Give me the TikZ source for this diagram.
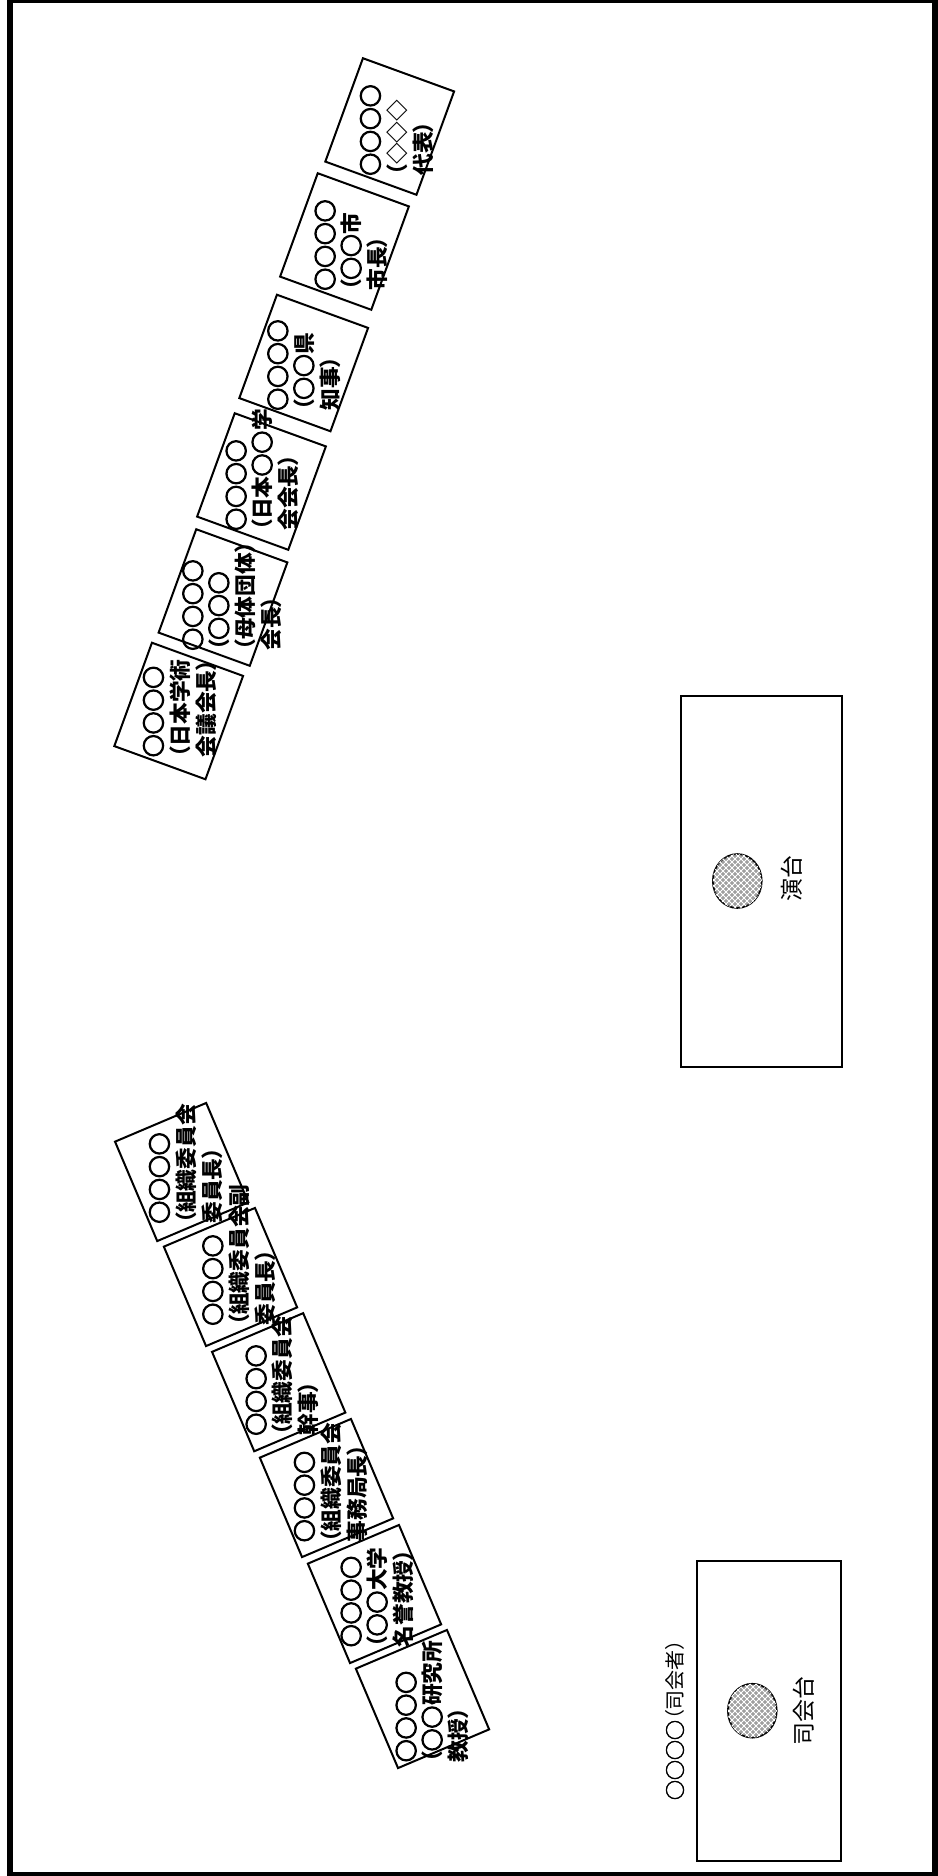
\documentclass[tikz,border=0pt]{standalone}
\usepackage{fontspec}
\usepackage{newunicodechar}
\newfontfamily\jp{Noto Sans CJK JP}[RawFeature=+palt]
\newfontfamily\maruface{Noto Sans CJK JP}[FakeBold=5, Scale=1.05]
\newfontfamily\marulight{Noto Sans CJK JP}[FakeBold=2.5]
\newcommand\maruglyph{{\marulight\char"25CB}}
\newunicodechar{○}{\maruglyph}
\usetikzlibrary{shapes.geometric,patterns}

\begin{document}
\begin{tikzpicture}[x=0.5pt, y=-0.5pt,
    seattop/.style={draw, line width=1pt, inner sep=0pt, rotate=-20, minimum width=48.5pt, minimum height=55pt},
    seatbottom/.style={draw, line width=1pt, inner sep=0pt, rotate=23, minimum width=49.5pt, minimum height=54pt},
    guest/.style={rotate=90, anchor=north west, inner sep=0pt, align=left,
        font=\jp\bfseries\fontsize{10.85}{13}\selectfont\def\maruglyph{{\maruface\bfseries\char"25CB}}},
    podium/.style={ellipse, draw, line width=0.8pt, inner sep=0pt, minimum width=24.5pt, minimum height=27pt, fill=gray!75,
        postaction={pattern=north east lines, pattern color=white},
        postaction={pattern=north west lines, pattern color=white}},
    stagetext/.style={rotate=90, inner sep=0pt, font=\jp\fontsize{11.5}{14}\selectfont}]

    \useasboundingbox (0,0) rectangle (938,1876);
    % Room
    \draw[line width=3pt] (10,0) rectangle (935,1875);

    % Guest seats (upper row)
    \node[seattop] (t1) at (389.7,126.5) {};
    \node[guest] (t1text) at (359.8,176) {○○○○\\（◇◇◇\\代表）};
    \node[seattop] (t2) at (344.5,241.5) {};
    \node[guest] (t2text) at (314.5,291) {○○○○\\（○○市\\市長）};
    \node[seattop] (t3) at (303.7,363) {};
    \node[guest] (t3text) at (267.2,411) {○○○○\\（○○県\\知事）};
    \node[seattop] (t4) at (261.5,481.5) {};
    \node[guest] (t4text) at (225.5,531) {○○○○\\（日本○○学\\会会長）};
    \node[seattop] (t5) at (223,597.5) {};
    \node[guest] (t5text) at (182.2,651) {○○○○\\（○○○\\（母体団体）\\会長）};
    \node[seattop] (t6) at (178.7,711) {};
    \node[guest] (t6text) at (142.8,757.5) {○○○○\\（日本学術\\会議会長）};

    % Guest seats (lower row)
    \node[seatbottom] (b1) at (181.7,1172) {};
    \node[guest] (b1text) at (148.8,1224) {○○○○\\（組織委員会\\委員長）};
    \node[seatbottom] (b2) at (230.5,1277) {};
    \node[guest] (b2text) at (202.2,1326) {○○○○\\（組織委員会副\\委員長）};
    \node[seatbottom] (b3) at (278.7,1382.2) {};
    \node[guest] (b3text) at (245.5,1436) {○○○○\\（組織委員会\\幹事）};
    \node[seatbottom] (b4) at (326.5,1488) {};
    \node[guest] (b4text) at (293.8,1542.5) {○○○○\\（組織委員会\\事務局長）};
    \node[seatbottom] (b5) at (374.5,1594) {};
    \node[guest] (b5text) at (340.5,1647.5) {○○○○\\（○○大学\\名誉教授）};
    \node[seatbottom] (b6) at (422.5,1699) {};
    \node[guest] (b6text) at (395.5,1762.5) {○○○○\\（○○研究所\\教授）};

    % Lectern
    \draw[line width=1pt] (680.7,695.7) rectangle (841.7,1066.7);
    \node[podium] (lectern) at (737.3,881) {};
    \node[stagetext] (lecterntext) at (791.7,878.7) {演台};

    % MC stand
    \draw[line width=1pt] (696.7,1560.7) rectangle (841,1860.7);
    \node[podium] (mcstand) at (752.3,1710.7) {};
    \node[stagetext] (mcstandtext) at (803.3,1710.8) {司会台};
    \node[rotate=90, inner sep=0pt, font=\jp\fontsize{10}{12}\selectfont] (mc) at (675,1720) {○○○○（司会者）};
\end{tikzpicture}
\end{document}
